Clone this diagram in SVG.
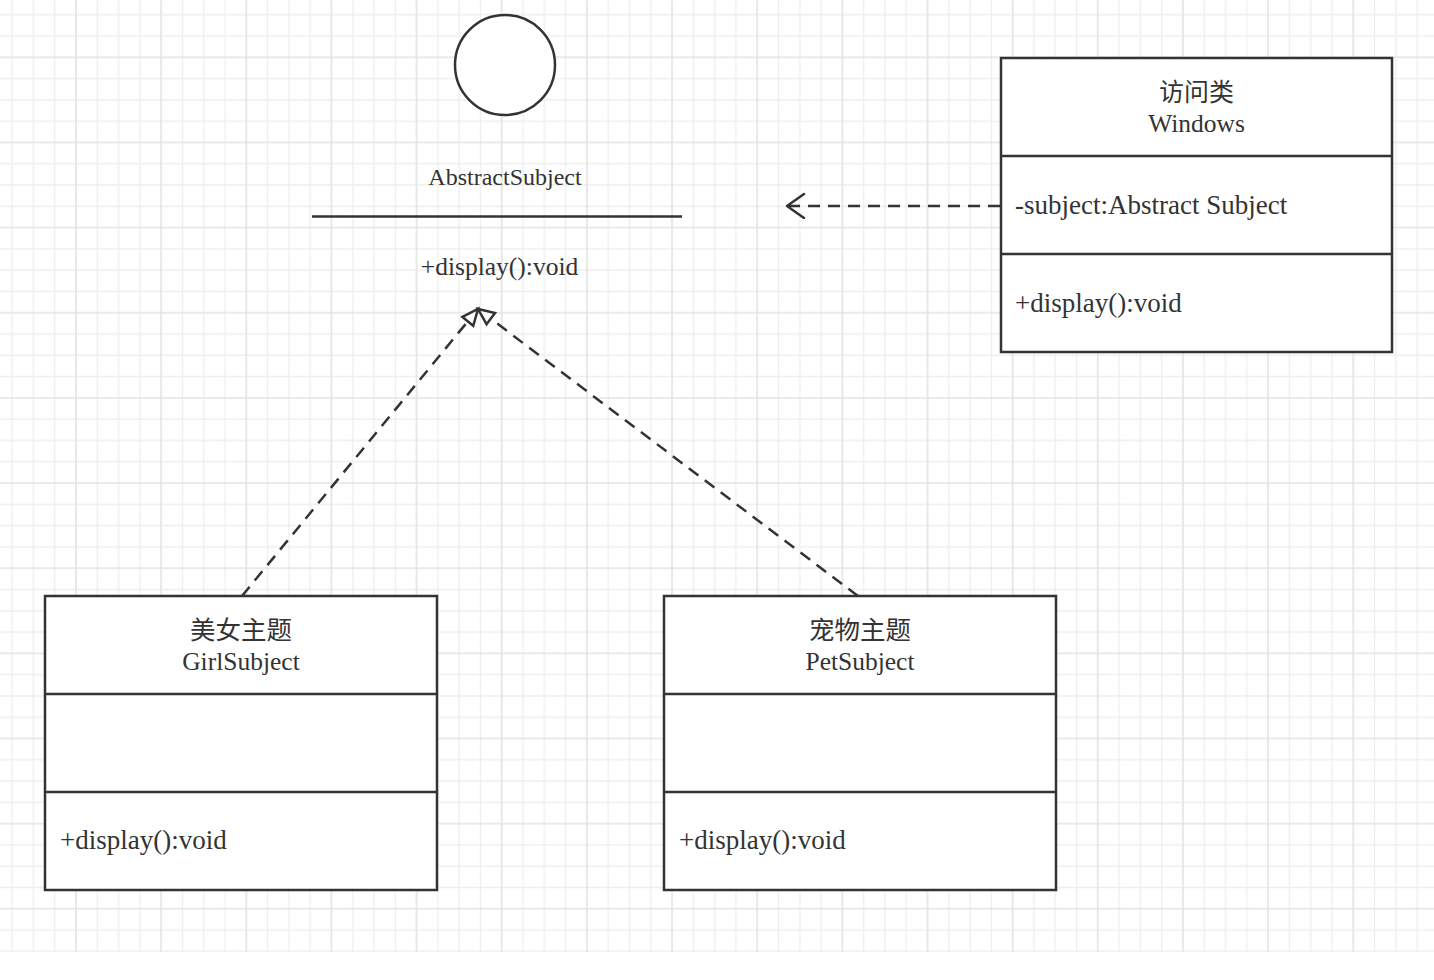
<svg xmlns="http://www.w3.org/2000/svg" width="1434" height="980" viewBox="0 0 1434 980">
  <defs>
    <pattern id="grid" patternUnits="userSpaceOnUse" x="75" y="56.3" width="85.15" height="85.15">
      <path d="M22.29 0V85.15M43.58 0V85.15M64.86 0V85.15M0 22.29H85.15M0 43.58H85.15M0 64.86H85.15" stroke="#eeeeee" stroke-width="1.3" fill="none"/>
      <path d="M1 0V85.15M0 1H85.15" stroke="#e3e3e3" stroke-width="1.6" fill="none"/>
    </pattern>
    <marker id="openArrow" markerUnits="userSpaceOnUse" markerWidth="30" markerHeight="30" refX="28" refY="13" orient="auto" viewBox="0 0 30 30">
      <path d="M11 1 L28 13 L11 25" fill="none" stroke="#333" stroke-width="2.5" stroke-linecap="round" stroke-linejoin="round"/>
    </marker>
    <marker id="hollowTri" markerUnits="userSpaceOnUse" markerWidth="24" markerHeight="20" refX="18" refY="10" orient="auto" viewBox="0 0 24 20">
      <path d="M2 3 L18 10 L2 17 Z" fill="#ffffff" stroke="#333" stroke-width="2.5" stroke-linejoin="miter"/>
    </marker>
  </defs>
  <style>
    .box { fill: #ffffff; stroke: #333333; stroke-width: 2.5; }
    .sep { stroke: #333333; stroke-width: 2.5; fill: none; }
    .t { font-family: "Liberation Serif", "Noto Sans CJK SC", serif; fill: #333333; }
    .cjk { font-family: "Noto Sans CJK SC", "Liberation Serif", sans-serif; fill: #333333; }
    .mid { text-anchor: middle; }
    .conn { fill: none; stroke: #333333; stroke-width: 2.5; stroke-dasharray: 12 8; }
  </style>
  <rect x="0" y="0" width="1434" height="980" fill="#ffffff"/>
  <rect x="0" y="0" width="1434" height="952" fill="url(#grid)"/>

  <g id="connectors">
    <line class="conn" x1="1000" y1="206" x2="787" y2="206" marker-end="url(#openArrow)"/>
    <line class="conn" x1="242" y1="596" x2="478" y2="309" marker-end="url(#hollowTri)"/>
    <line class="conn" x1="858" y1="596" x2="478" y2="309" marker-end="url(#hollowTri)"/>
  </g>

  <g id="abstract-subject">
    <circle cx="505" cy="65" r="50" fill="#ffffff" stroke="#333333" stroke-width="2.5"/>
    <text class="t mid" x="505" y="185" font-size="24">AbstractSubject</text>
    <line class="sep" x1="312" y1="216.5" x2="682" y2="216.5"/>
    <text class="t mid" x="499.5" y="275" font-size="25.5">+display():void</text>
  </g>

  <g id="windows">
    <rect class="box" x="1001" y="58" width="391" height="294"/>
    <line class="sep" x1="1001" y1="156" x2="1392" y2="156"/>
    <line class="sep" x1="1001" y1="254" x2="1392" y2="254"/>
    <text class="cjk mid" x="1196.5" y="101" font-size="25">访问类</text>
    <text class="t mid" x="1196.5" y="132" font-size="25.5">Windows</text>
    <text class="t" x="1015" y="214" font-size="27">-subject:Abstract Subject</text>
    <text class="t" x="1015" y="312" font-size="27">+display():void</text>
  </g>

  <g id="girl-subject">
    <rect class="box" x="45" y="596" width="392" height="294"/>
    <line class="sep" x1="45" y1="694" x2="437" y2="694"/>
    <line class="sep" x1="45" y1="792" x2="437" y2="792"/>
    <text class="cjk mid" x="241" y="639" font-size="25.5">美女主题</text>
    <text class="t mid" x="241" y="669.5" font-size="25.5">GirlSubject</text>
    <text class="t" x="60" y="848.5" font-size="27">+display():void</text>
  </g>

  <g id="pet-subject">
    <rect class="box" x="664" y="596" width="392" height="294"/>
    <line class="sep" x1="664" y1="694" x2="1056" y2="694"/>
    <line class="sep" x1="664" y1="792" x2="1056" y2="792"/>
    <text class="cjk mid" x="860" y="639" font-size="25.5">宠物主题</text>
    <text class="t mid" x="860" y="669.5" font-size="25.5">PetSubject</text>
    <text class="t" x="679" y="848.5" font-size="27">+display():void</text>
  </g>
</svg>
